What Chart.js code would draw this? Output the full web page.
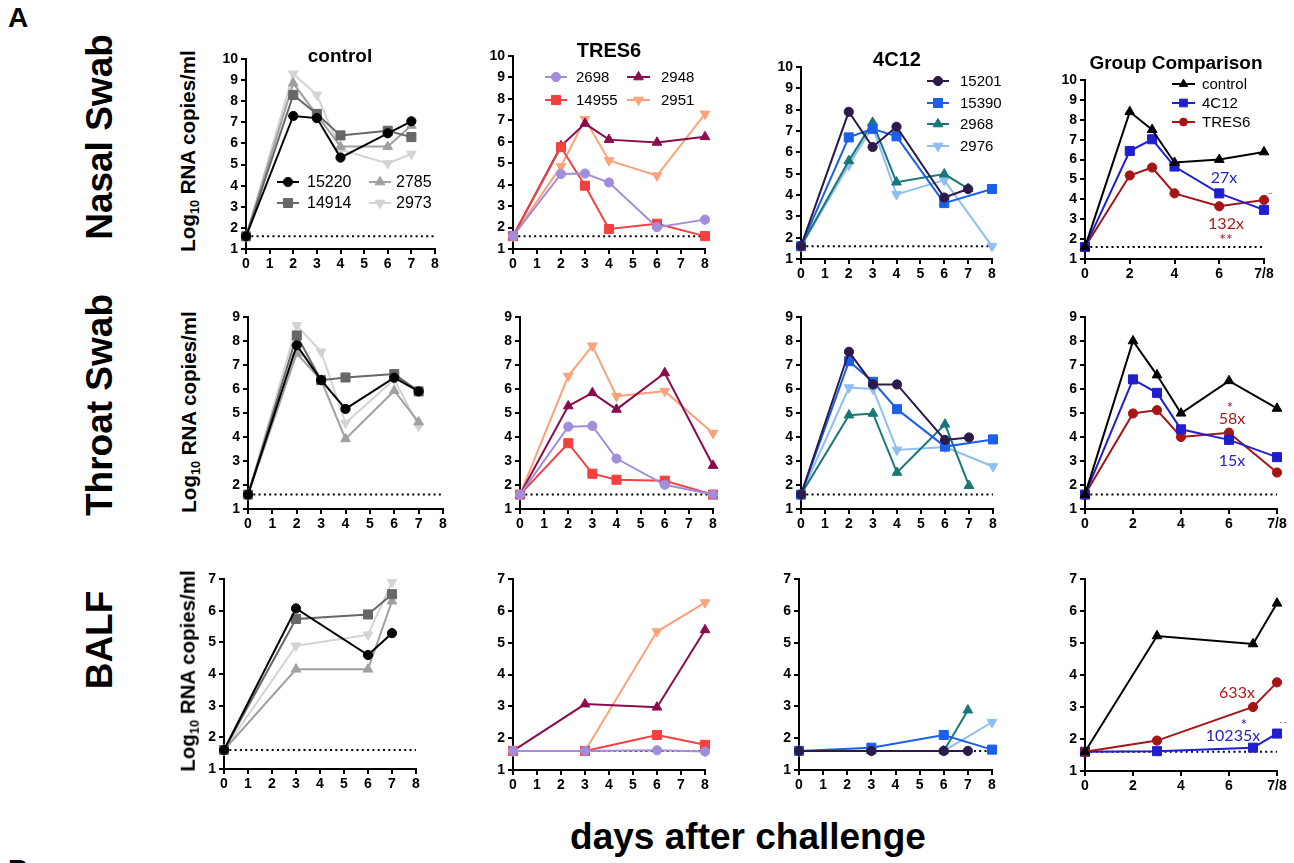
<!DOCTYPE html>
<html><head><meta charset="utf-8">
<script src="https://cdn.jsdelivr.net/npm/chart.js@4.4.1/dist/chart.umd.min.js"></script>
<style>
html,body{margin:0;padding:0;background:#fff;}
body{width:1294px;height:863px;overflow:hidden;position:relative;font-family:"Liberation Sans",Arial,sans-serif;}
.t{position:absolute;white-space:nowrap;color:#000;line-height:1;transform:translate(-50%,-50%);}
.r{transform:translate(-50%,-50%) rotate(-90deg);}
.t sub{font-size:62%;vertical-align:-0.3em;line-height:0;}
canvas{position:absolute;}
</style></head><body>
<script>
// ---------------- DATA ----------------
const LOD = 1.6;
const xTicks = [0,1,2,3,4,5,6,7,8];
const groupXTickLabels = ['0','2','4','6','7/8'];
const controlAnimals = ['15220','14914','2785','2973'];
const tres6Animals = ['2698','14955','2948','2951'];
const c4c12Animals = ['15201','15390','2968','2976'];
const groupNames = ['control','4C12','TRES6'];

// Nasal swab
const nasalCtrlDays = [0,2,3,4,6,7];
const nasalCtrl_15220 = [1.6,7.3,7.2,5.33,6.48,7.05];
const nasalCtrl_14914 = [1.6,8.3,7.4,6.38,6.6,6.3];
const nasalCtrl_2785  = [1.6,8.85,7.35,5.85,5.85,6.85];
const nasalCtrl_2973  = [1.6,9.3,8.3,5.7,5.05,5.5];
const nasalTresDays = [0,2,3,4,6,8];
const nasalTres_2698  = [1.6,4.5,4.52,4.1,2.02,2.37];
const nasalTres_14955 = [1.6,5.75,3.95,1.93,2.18,1.6];
const nasalTres_2948  = [1.6,5.8,6.85,6.1,5.97,6.23];
const nasalTres_2951  = [1.6,4.85,7.05,5.13,4.42,7.3];
const nasal4cDays = [0,2,3,4,6,7,8];
const nasal4c_15201 = [1.6,7.9,6.25,7.2,3.88,4.28,null];
const nasal4c_15390 = [1.6,6.7,7.1,6.75,3.62,null,4.28];
const nasal4c_2968  = [1.6,5.6,7.4,4.6,4.98,4.3,null];
const nasal4c_2976  = [1.6,5.4,7.2,4.03,4.7,null,1.6];
const nasalGrpDays = [0,2,3,4,6,8];
const nasalGrp_control = [1.6,8.4,7.5,5.85,6.0,6.38];
const nasalGrp_4C12    = [1.6,6.43,7.02,5.65,4.3,3.47];
const nasalGrp_TRES6   = [1.6,5.2,5.6,4.3,3.65,3.97];

// Throat swab
const throatCtrlDays = [0,2,3,4,6,7];
const throatCtrl_15220 = [1.6,7.82,6.37,5.17,6.47,5.9];
const throatCtrl_14914 = [1.6,8.23,6.37,6.48,6.62,5.9];
const throatCtrl_2785  = [1.6,7.48,6.37,3.92,5.93,4.62];
const throatCtrl_2973  = [1.6,8.65,7.55,4.58,6.4,4.45];
const throatTresDays = [0,2,3,4,6,8];
const throatTres_2698  = [1.6,4.43,4.46,3.1,2.01,1.6];
const throatTres_14955 = [1.6,3.74,2.47,2.22,2.18,1.6];
const throatTres_2948  = [1.6,5.29,5.84,5.15,6.67,2.81];
const throatTres_2951  = [1.6,6.54,7.8,5.7,5.91,4.16];
const throat4cDays = [0,2,3,4,6,7,8];
const throat4c_15201 = [1.6,7.55,6.19,6.19,3.88,3.98,null];
const throat4c_15390 = [1.6,7.16,6.3,5.16,3.6,null,3.9];
const throat4c_2968  = [1.6,4.91,4.98,2.52,4.53,1.97,null];
const throat4c_2976  = [1.6,6.06,6.0,3.46,3.58,null,2.77];
const throatGrpDays = [0,2,3,4,6,8];
const throatGrp_control = [1.6,8.0,6.58,4.99,6.34,5.19];
const throatGrp_4C12    = [1.6,6.4,5.84,4.32,3.88,3.16];
const throatGrp_TRES6   = [1.6,4.98,5.12,4.0,4.18,2.52];

// BALF
const balfCtrlDays = [0,3,6,7];
const balfCtrl_15220 = [1.6,6.07,4.6,5.29];
const balfCtrl_14914 = [1.6,5.74,5.88,6.52];
const balfCtrl_2785  = [1.6,4.15,4.15,6.3];
const balfCtrl_2973  = [1.6,4.89,5.24,6.9];
const balfTresDays = [0,3,6,8];
const balfTres_2698  = [1.6,1.6,1.62,1.58];
const balfTres_14955 = [1.6,1.6,2.1,1.79];
const balfTres_2948  = [1.6,3.07,2.97,5.4];
const balfTres_2951  = [1.6,1.6,5.35,6.26];
const balf4cDays = [0,3,6,7,8];
const balf4c_15201 = [1.6,1.6,1.6,1.6,null];
const balf4c_15390 = [1.6,1.7,2.1,null,1.64];
const balf4c_2968  = [1.6,1.6,1.6,2.88,null];
const balf4c_2976  = [1.6,1.6,1.6,null,2.5];
const balfGrpDays = [0,3,7,8];
const balfGrp_control = [1.6,5.22,4.97,6.24];
const balfGrp_TRES6   = [1.6,1.95,3.0,3.77];
const balfGrp_4C12    = [1.6,1.62,1.73,2.17];

// ---------------- STYLES ----------------
const STY = {
 '15220':{c:'#000000',s:'circle'}, '14914':{c:'#676767',s:'rect'}, '2785':{c:'#a0a0a0',s:'triangle'}, '2973':{c:'#d3d3d3',s:'down'},
 '2698':{c:'#a28ddb',s:'circle'}, '14955':{c:'#f4413f',s:'rect'}, '2948':{c:'#8a0c4f',s:'triangle'}, '2951':{c:'#f9a37b',s:'down'},
 '15201':{c:'#2c1a4a',s:'circle'}, '15390':{c:'#1b60e8',s:'rect'}, '2968':{c:'#197777',s:'triangle'}, '2976':{c:'#8ebff2',s:'down'},
 'control':{c:'#000000',s:'triangle'}, '4C12':{c:'#1f1fd0',s:'rect'}, 'TRES6':{c:'#a51515',s:'circle'}
};
const RAD = {circle:4.6, rect:6.4, triangle:5.6, down:5.6};
const FONT = '"Liberation Sans", Arial, sans-serif';

function drawMarker(ctx, style, r, x, y){
  ctx.beginPath();
  if(style==='circle'){ ctx.arc(x,y,r,0,Math.PI*2); }
  else if(style==='rect'){ const s=r*Math.SQRT1_2; ctx.rect(x-s,y-s,2*s,2*s); }
  else { let a = style==='down'?Math.PI:0; for(let k=0;k<3;k++){ const px=x+Math.sin(a)*r, py=y-Math.cos(a)*r; k?ctx.lineTo(px,py):ctx.moveTo(px,py); a+=2*Math.PI/3;} ctx.closePath(); }
  ctx.fill(); ctx.stroke();
}

const miniLegend = {
  id:'miniLegend',
  afterDraw(chart, args, opts){
    if(!opts || !opts.items) return;
    const ctx = chart.ctx; ctx.save();
    opts.items.forEach(it=>{
      const st = STY[it.name];
      const ox = opts.ox, oy = opts.oy;
      ctx.strokeStyle = st.c; ctx.fillStyle = st.c; ctx.lineWidth = 2;
      ctx.beginPath(); ctx.moveTo(it.l1-ox, it.y-oy); ctx.lineTo(it.l2-ox, it.y-oy); ctx.stroke();
      ctx.lineWidth = 1;
      drawMarker(ctx, st.s, RAD[st.s]*(opts.ms||1), (it.l1+it.l2)/2-ox, it.y-oy);
      ctx.fillStyle = '#000'; ctx.font = opts.font+'px '+FONT; ctx.textBaseline='middle'; ctx.textAlign='left';
      ctx.fillText(it.name, it.tx-ox, it.y-oy+1);
    });
    ctx.restore();
  }
};
Chart.register(miniLegend);

function panel(p){
  const padT=14, padR=16, yW=40, xH=24;
  const w = yW + (p.x8-p.x0) + padR, h = padT + (p.yb-p.yt) + xH;
  const left = p.x0 - yW, top = p.yt - padT;
  const cv = document.createElement('canvas');
  cv.width=w; cv.height=h; cv.style.width=w+'px'; cv.style.height=h+'px';
  cv.style.left=left+'px'; cv.style.top=top+'px';
  document.body.appendChild(cv);
  const datasets = p.series.map(([name, vals])=>{
    const st = STY[name];
    return {
      label:name,
      data: p.days.map((d,i)=>({x:d,y:vals[i]})).filter(q=>q.y!==null),
      borderColor:st.c, backgroundColor:st.c, pointBackgroundColor:st.c, pointBorderColor:st.c,
      pointStyle: st.s==='down'?'triangle':st.s, pointRotation: st.s==='down'?180:0,
      pointRadius: RAD[st.s], pointBorderWidth:1, borderWidth:2, tension:0, clip:false
    };
  });
  datasets.push({label:'LOD', data:[{x:0,y:LOD},{x:8,y:LOD}], borderColor:'#000', borderWidth:2,
    borderDash:[2,3.3], pointRadius:0, clip:false});
  const tickFont = {family:FONT, size:14, weight:'bold'};
  new Chart(cv, {
    type:'line',
    data:{datasets},
    options:{
      responsive:false, animation:false, devicePixelRatio:1,
      layout:{padding:{top:padT,right:padR,left:0,bottom:0}},
      plugins:{legend:{display:false}, tooltip:{enabled:false},
        miniLegend: p.legend ? Object.assign({ox:left, oy:top}, p.legend) : {}},
      scales:{
        x:{type:'linear', min:0, max:8,
          ticks:{stepSize:p.group?2:1, autoSkip:false, maxRotation:0, color:'#000', font:tickFont, padding:2,
            callback:(v)=> p.group ? groupXTickLabels[v/2] : String(xTicks[v])},
          grid:{drawOnChartArea:false, drawTicks:true, tickLength:5, color:'#000', lineWidth:2},
          border:{display:true, color:'#000', width:2},
          afterFit:(s)=>{s.height=xH;}},
        y:{type:'linear', min:1, max:p.ymax,
          ticks:{stepSize:1, color:'#000', font:tickFont, padding:3},
          grid:{drawOnChartArea:false, drawTicks:true, tickLength:5, color:'#000', lineWidth:2},
          border:{display:true, color:'#000', width:2},
          afterFit:(s)=>{s.width=yW;}}
      }
    }
  });
}

const ctrlLeg = {font:16, items:[
  {name:'15220', l1:277, l2:299, tx:307, y:182},{name:'14914', l1:277, l2:299, tx:307, y:203},
  {name:'2785', l1:369, l2:391, tx:396, y:182},{name:'2973', l1:369, l2:391, tx:396, y:203}]};
const tresLeg = {font:15, items:[
  {name:'2698', l1:545, l2:567, tx:576, y:77},{name:'14955', l1:545, l2:567, tx:576, y:100},
  {name:'2948', l1:627, l2:650, tx:661, y:77},{name:'2951', l1:627, l2:650, tx:661, y:100}]};
const c4Leg = {font:15, items:[
  {name:'15201', l1:927, l2:949, tx:960, y:81},{name:'15390', l1:927, l2:949, tx:960, y:103},
  {name:'2968', l1:927, l2:949, tx:960, y:124},{name:'2976', l1:927, l2:949, tx:960, y:146}]};
const grpLeg = {font:15, ms:0.85, items:[
  {name:'control', l1:1172, l2:1195, tx:1202, y:84},{name:'4C12', l1:1172, l2:1195, tx:1202, y:103},
  {name:'TRES6', l1:1172, l2:1195, tx:1202, y:122}]};

// Row 1 - nasal
panel({x0:246,x8:435,yt:59,yb:249,ymax:10,days:nasalCtrlDays,legend:ctrlLeg,
  series:[['15220',nasalCtrl_15220],['14914',nasalCtrl_14914],['2785',nasalCtrl_2785],['2973',nasalCtrl_2973]]});
panel({x0:513,x8:705,yt:56,yb:249,ymax:10,days:nasalTresDays,legend:tresLeg,
  series:[['2698',nasalTres_2698],['14955',nasalTres_14955],['2948',nasalTres_2948],['2951',nasalTres_2951]]});
panel({x0:801,x8:992,yt:67,yb:259,ymax:10,days:nasal4cDays,legend:c4Leg,
  series:[['15201',nasal4c_15201],['15390',nasal4c_15390],['2968',nasal4c_2968],['2976',nasal4c_2976]]});
panel({x0:1085,x8:1264,yt:80,yb:259,ymax:10,days:nasalGrpDays,legend:grpLeg,group:true,
  series:[['control',nasalGrp_control],['4C12',nasalGrp_4C12],['TRES6',nasalGrp_TRES6]]});
// Row 2 - throat
panel({x0:248,x8:443,yt:317,yb:509,ymax:9,days:throatCtrlDays,
  series:[['15220',throatCtrl_15220],['14914',throatCtrl_14914],['2785',throatCtrl_2785],['2973',throatCtrl_2973]]});
panel({x0:520,x8:713,yt:317,yb:509,ymax:9,days:throatTresDays,
  series:[['2698',throatTres_2698],['14955',throatTres_14955],['2948',throatTres_2948],['2951',throatTres_2951]]});
panel({x0:801,x8:993,yt:317,yb:509,ymax:9,days:throat4cDays,
  series:[['15201',throat4c_15201],['15390',throat4c_15390],['2968',throat4c_2968],['2976',throat4c_2976]]});
panel({x0:1085,x8:1277,yt:317,yb:509,ymax:9,days:throatGrpDays,group:true,
  series:[['control',throatGrp_control],['4C12',throatGrp_4C12],['TRES6',throatGrp_TRES6]]});
// Row 3 - BALF
panel({x0:224,x8:416,yt:579,yb:769,ymax:7,days:balfCtrlDays,
  series:[['15220',balfCtrl_15220],['14914',balfCtrl_14914],['2785',balfCtrl_2785],['2973',balfCtrl_2973]]});
panel({x0:513,x8:705,yt:579,yb:770,ymax:7,days:balfTresDays,
  series:[['2698',balfTres_2698],['14955',balfTres_14955],['2948',balfTres_2948],['2951',balfTres_2951]]});
panel({x0:799,x8:992,yt:579,yb:770,ymax:7,days:balf4cDays,
  series:[['15201',balf4c_15201],['15390',balf4c_15390],['2968',balf4c_2968],['2976',balf4c_2976]]});
panel({x0:1085,x8:1277,yt:579,yb:771,ymax:7,days:balfGrpDays,group:true,
  series:[['control',balfGrp_control],['TRES6',balfGrp_TRES6],['4C12',balfGrp_4C12]]});

// ---------------- TEXT ----------------
function txt(html, x, y, css, rot){
  const d=document.createElement('div'); d.className='t'+(rot?' r':''); d.innerHTML=html;
  d.style.left=x+'px'; d.style.top=y+'px'; Object.assign(d.style, css||{});
  document.body.appendChild(d);
}
txt('A', 18, 18, {fontWeight:'bold', fontSize:'28px'});
txt('B', 18, 870, {fontWeight:'bold', fontSize:'28px'});
txt('control', 340, 55, {fontWeight:'bold', fontSize:'19px'});
txt('TRES6', 609, 50, {fontWeight:'bold', fontSize:'20px'});
txt('4C12', 897, 59, {fontWeight:'bold', fontSize:'20px'});
txt('Group Comparison', 1176, 62, {fontWeight:'bold', fontSize:'19px'});
txt('Nasal Swab', 99, 137, {fontWeight:'bold', fontSize:'37px'}, true);
txt('Throat Swab', 99, 405, {fontWeight:'bold', fontSize:'37px'}, true);
txt('BALF', 99, 640, {fontWeight:'bold', fontSize:'37px'}, true);
const ylab = 'Log<sub>10</sub> RNA copies/ml';
txt(ylab, 188, 151, {fontWeight:'bold', fontSize:'20.5px'}, true);
txt(ylab, 189, 412, {fontWeight:'bold', fontSize:'20.5px'}, true);
txt(ylab, 188, 671, {fontWeight:'bold', fontSize:'20.5px'}, true);
txt('days after challenge', 748, 836, {fontWeight:'bold', fontSize:'37px'});
const AF = '"Lato", "Open Sans", sans-serif';
const red='#b01818', blue='#2323c8';
txt('27x', 1224, 177, {fontFamily:AF, fontSize:'16px', color:blue});
txt('132x', 1226, 223, {fontFamily:AF, fontSize:'16px', color:red});
txt('**', 1226, 239, {fontFamily:AF, fontSize:'16px', color:red});
txt('~', 1270, 193, {fontFamily:AF, fontSize:'8px', color:red});
txt('*', 1230, 407, {fontFamily:AF, fontSize:'16px', color:red});
txt('58x', 1232, 418, {fontFamily:AF, fontSize:'16px', color:red});
txt('15x', 1232, 460, {fontFamily:AF, fontSize:'16px', color:blue});
txt('633x', 1237, 692, {fontFamily:AF, fontSize:'16px', color:red});
txt('*', 1244, 724, {fontFamily:AF, fontSize:'16px', color:blue});
txt('10235x', 1233, 735, {fontFamily:AF, fontSize:'16px', color:blue});
txt('- -', 1283, 722, {fontFamily:AF, fontSize:'7px', color:blue});
</script>
</body></html>
